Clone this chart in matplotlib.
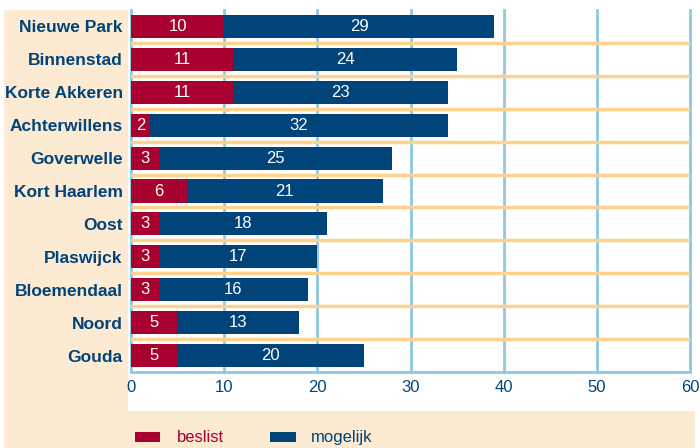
import matplotlib.pyplot as plt
from matplotlib.patches import Rectangle

wijken = ["Nieuwe Park", "Binnenstad", "Korte Akkeren", "Achterwillens", "Goverwelle",
          "Kort Haarlem", "Oost", "Plaswijck", "Bloemendaal", "Noord", "Gouda"]
beslist = [10, 11, 11, 2, 3, 6, 3, 3, 3, 5, 5]
mogelijk = [29, 24, 23, 32, 25, 21, 18, 17, 16, 13, 20]
xticks = [0, 10, 20, 30, 40, 50, 60]

rood = "#a8002f"
blauw = "#00447a"
creme = "#fdead2"
grid_blauw = "#8ccae2"
grid_oranje = "#fdd18e"

plt.rcParams["font.family"] = ["Liberation Sans", "DejaVu Sans"]

fig = plt.figure(figsize=(7, 4.48), dpi=100)
fig.patch.set_facecolor("white")
# creme panelen links en onder
fig.add_artist(Rectangle((4/700, 0), (128-4)/700, (448-10)/448, transform=fig.transFigure,
                         facecolor=creme, edgecolor="none", zorder=0))
fig.add_artist(Rectangle((4/700, 0), (695-4)/700, (448-411)/448, transform=fig.transFigure,
                         facecolor=creme, edgecolor="none", zorder=0))

ax = fig.add_axes([131/700, (448-372)/448, (690-131)/700, (372-10)/448])
ax.set_facecolor("white")

y = list(range(len(wijken)))
ax.barh(y, beslist, height=0.7, color=rood, zorder=3)
ax.barh(y, mogelijk, left=beslist, height=0.7, color=blauw, zorder=3)

for i in y:
    ax.text(beslist[i] / 2, i, str(beslist[i]), color="white", ha="center", va="center",
            fontsize=12, zorder=4)
    ax.text(beslist[i] + mogelijk[i] / 2, i, str(mogelijk[i]), color="white", ha="center",
            va="center", fontsize=12, zorder=4)

ax.set_xlim(0, 60)
ax.set_ylim(len(wijken) - 0.5, -0.5)

for xv in xticks:
    ax.axvline(xv, color=grid_blauw, lw=2, zorder=1, clip_on=False)
for k in range(len(wijken) - 1):
    ax.axhline(k + 0.5, color=grid_oranje, lw=2.5, zorder=2)

for s in ["top", "right", "left"]:
    ax.spines[s].set_visible(False)
ax.spines["bottom"].set_color(grid_blauw)
ax.spines["bottom"].set_linewidth(2)

ax.set_xticks(xticks)
ax.set_yticks(y)
ax.set_yticklabels(wijken, fontsize=12.5, fontweight="bold", color=blauw)
ax.tick_params(axis="both", length=0)
ax.tick_params(axis="x", labelsize=12, labelcolor=blauw, pad=6)
ax.tick_params(axis="y", pad=6)

# legenda
fig.add_artist(Rectangle((135/700, (448-442)/448), 25/700, 10/448, transform=fig.transFigure,
                         facecolor=rood, edgecolor="none"))
fig.text(177/700, (448-437)/448, "beslist", color=rood, fontsize=12, va="center")
fig.add_artist(Rectangle((270/700, (448-442)/448), 26/700, 10/448, transform=fig.transFigure,
                         facecolor=blauw, edgecolor="none"))
fig.text(311/700, (448-437)/448, "mogelijk", color=blauw, fontsize=12, va="center")

fig.savefig("out.png", dpi=100)
